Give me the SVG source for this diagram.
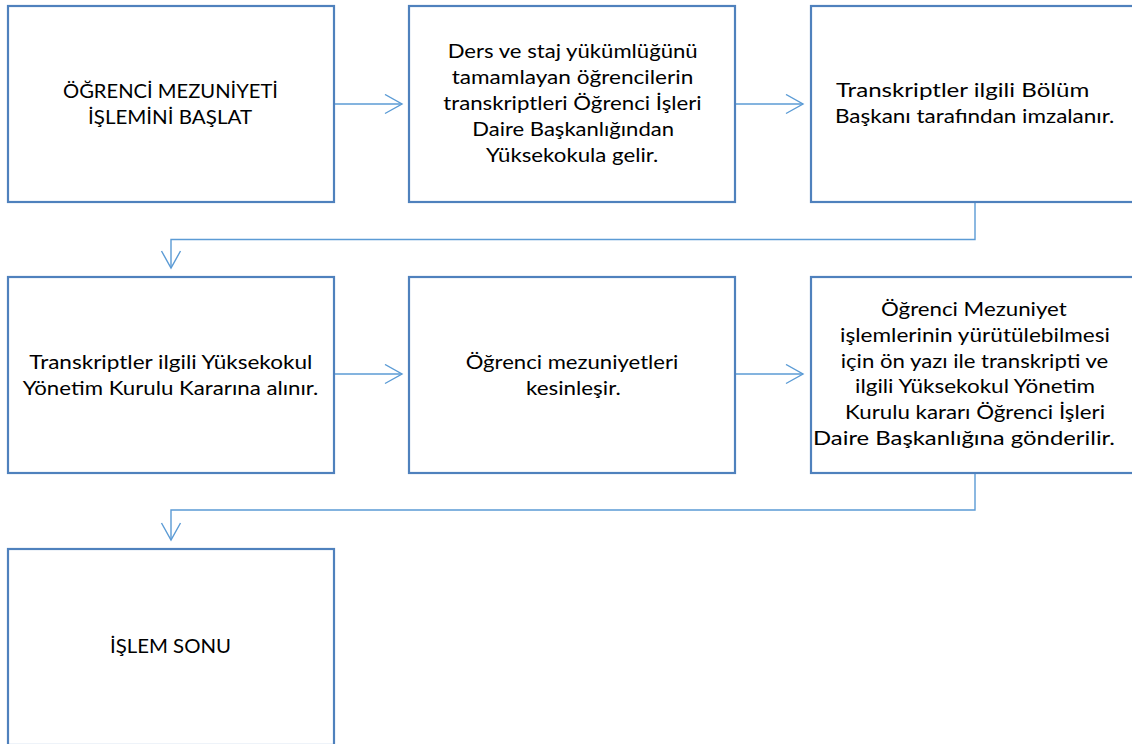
<svg xmlns="http://www.w3.org/2000/svg" width="1132" height="744" viewBox="0 0 1132 744">
<defs>
<style>
.box{fill:#ffffff;stroke:#4f81bd;stroke-width:2.2}
.t{font-family:Lato,"Open Sans","Liberation Sans",sans-serif;font-size:19.5px;fill:#000000}
.c{fill:none;stroke:#5b9bd5;stroke-width:1.4}
</style>
<marker id="arr" markerUnits="userSpaceOnUse" markerWidth="20" markerHeight="22" refX="17" refY="9.5" orient="auto" viewBox="-1 -1 20 22">
<path d="M0,0 L17,9.5 L0,19" fill="none" stroke="#5b9bd5" stroke-width="1.4"/>
</marker>
</defs>
<rect width="1132" height="744" fill="#ffffff"/>
<g id="connectors">
<line class="c" x1="334" y1="104" x2="402" y2="104" marker-end="url(#arr)"/>
<line class="c" x1="736" y1="104" x2="803" y2="104" marker-end="url(#arr)"/>
<polyline class="c" points="975,202 975,239.5 171,239.5 171,268" marker-end="url(#arr)"/>
<line class="c" x1="334" y1="374" x2="402" y2="374" marker-end="url(#arr)"/>
<line class="c" x1="736" y1="374" x2="803" y2="374" marker-end="url(#arr)"/>
<polyline class="c" points="975,473 975,510 171,510 171,540" marker-end="url(#arr)"/>
</g>
<g id="node1">
<rect class="box" x="8" y="6" width="326" height="196"/>
<text class="t" x="63" y="98.3" textLength="215" lengthAdjust="spacingAndGlyphs">ÖĞRENCİ MEZUNİYETİ</text>
<text class="t" x="88" y="124" textLength="164" lengthAdjust="spacingAndGlyphs">İŞLEMİNİ BAŞLAT</text>
</g>
<g id="node2">
<rect class="box" x="409" y="6" width="326" height="196"/>
<text class="t" x="447.7" y="58.3" textLength="250" lengthAdjust="spacingAndGlyphs">Ders ve staj yükümlüğünü</text>
<text class="t" x="451.7" y="84" textLength="241.6" lengthAdjust="spacingAndGlyphs">tamamlayan öğrencilerin</text>
<text class="t" x="443.3" y="110" textLength="258.4" lengthAdjust="spacingAndGlyphs">transkriptleri Öğrenci İşleri</text>
<text class="t" x="472.3" y="135.7" textLength="201.7" lengthAdjust="spacingAndGlyphs">Daire Başkanlığından</text>
<text class="t" x="486" y="161.7" textLength="172.3" lengthAdjust="spacingAndGlyphs">Yüksekokula gelir.</text>
</g>
<g id="node3">
<rect class="box" x="811" y="6" width="326" height="196"/>
<text class="t" x="836" y="97.3" textLength="253.3" lengthAdjust="spacingAndGlyphs">Transkriptler ilgili Bölüm</text>
<text class="t" x="835" y="122.7" textLength="279.3" lengthAdjust="spacingAndGlyphs">Başkanı tarafından imzalanır.</text>
</g>
<g id="node4">
<rect class="box" x="8" y="277" width="326" height="196"/>
<text class="t" x="29.3" y="369.3" textLength="283" lengthAdjust="spacingAndGlyphs">Transkriptler ilgili Yüksekokul</text>
<text class="t" x="22.7" y="395" textLength="295.6" lengthAdjust="spacingAndGlyphs">Yönetim Kurulu Kararına alınır.</text>
</g>
<g id="node5">
<rect class="box" x="409" y="277" width="326" height="196"/>
<text class="t" x="465.7" y="369.3" textLength="212.6" lengthAdjust="spacingAndGlyphs">Öğrenci mezuniyetleri</text>
<text class="t" x="526" y="395" textLength="94.7" lengthAdjust="spacingAndGlyphs">kesinleşir.</text>
</g>
<g id="node6">
<rect class="box" x="811" y="277" width="326" height="196"/>
<text class="t" x="881" y="316" textLength="185.7" lengthAdjust="spacingAndGlyphs">Öğrenci Mezuniyet</text>
<text class="t" x="840" y="341.7" textLength="270" lengthAdjust="spacingAndGlyphs">işlemlerinin yürütülebilmesi</text>
<text class="t" x="840.7" y="367.7" textLength="267.6" lengthAdjust="spacingAndGlyphs">için ön yazı ile transkripti ve</text>
<text class="t" x="855" y="393.3" textLength="240" lengthAdjust="spacingAndGlyphs">ilgili Yüksekokul Yönetim</text>
<text class="t" x="845" y="419.3" textLength="260" lengthAdjust="spacingAndGlyphs">Kurulu kararı Öğrenci İşleri</text>
<text class="t" x="813" y="445" textLength="302" lengthAdjust="spacingAndGlyphs">Daire Başkanlığına gönderilir.</text>
</g>
<g id="node7">
<rect class="box" x="8" y="549" width="326" height="196"/>
<text class="t" x="110" y="653.3" textLength="121" lengthAdjust="spacingAndGlyphs">İŞLEM SONU</text>
</g>
</svg>
